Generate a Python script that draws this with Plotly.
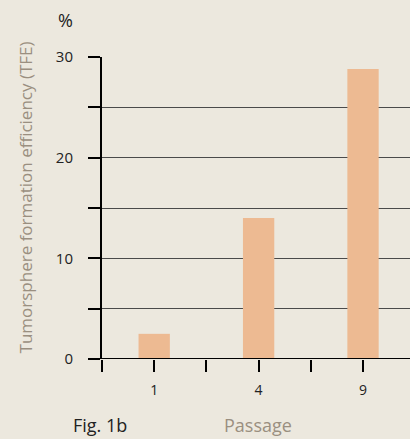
import plotly.graph_objects as go

categories = ["1", "4", "9"]
tfe_values = [2.5, 14.0, 28.8]
y_tick_vals = [0, 10, 20, 30]
y_tick_text = ["0", "10", "20", "30"]

FONT = "Open Sans"
BG = "#ECE8DE"
BAR = "#EDBA92"
TITLE_C = "#9A8F80"

xpos = list(range(len(categories)))

fig = go.Figure()
fig.add_trace(go.Bar(x=xpos, y=tfe_values, width=0.3, marker=dict(color=BAR, line=dict(width=0)),
                     hoverinfo="skip"))

fig.update_layout(
    width=410, height=439,
    margin=dict(l=102, r=0, t=57, b=80),
    paper_bgcolor=BG, plot_bgcolor=BG,
    showlegend=False,
    font=dict(family=FONT, color="#222222", size=13),
    xaxis=dict(
        range=[-0.5, 2.45], tickvals=xpos, ticktext=categories,
        ticks="outside", ticklen=12, tickwidth=2, tickcolor="black",
        showgrid=False, zeroline=False, showline=False,
        tickfont=dict(size=14, color="#222222"),
        ticklabelstandoff=6,
        minor=dict(tick0=-0.5, dtick=1, ticks="outside", ticklen=12, tickwidth=2, tickcolor="black", showgrid=False),
        fixedrange=True,
    ),
    yaxis=dict(
        range=[0, 30], tickvals=y_tick_vals, ticktext=y_tick_text,
        ticks="outside", ticklen=12, tickwidth=2, tickcolor="black",
        showgrid=True, gridcolor="#4a4a4a", gridwidth=1,
        zeroline=False, showline=True, linecolor="black", linewidth=2,
        tickfont=dict(size=15, color="#222222"),
        ticklabelstandoff=12,
        minor=dict(dtick=5, tick0=0, ticks="outside", ticklen=12, tickwidth=2, tickcolor="black",
                   showgrid=True, gridcolor="#4a4a4a", gridwidth=1),
        fixedrange=True,
    ),
)

# x-axis baseline (drawn on top of bars)
fig.add_shape(type="line", xref="paper", yref="y", x0=0, x1=1, y0=0, y1=0,
              line=dict(color="black", width=2), layer="above")

fig.add_annotation(xref="paper", yref="paper", x=-0.117, y=1.1225, text="%", showarrow=False,
                   font=dict(size=18, color="#222222", family=FONT), xanchor="center", yanchor="middle")
fig.add_annotation(xref="paper", yref="paper", x=-0.25, y=0.535, textangle=-90,
                   text="Tumorsphere formation efficiency (TFE)", showarrow=False,
                   font=dict(size=17, color=TITLE_C, family=FONT), xanchor="center", yanchor="middle")
fig.add_annotation(xref="paper", yref="paper", x=-0.005, y=-0.2185, text="Fig. 1b", showarrow=False,
                   font=dict(size=18, color="#222222", family=FONT), xanchor="center", yanchor="middle")
fig.add_annotation(xref="paper", yref="paper", x=0.505, y=-0.2185, text="Passage", showarrow=False,
                   font=dict(size=18, color=TITLE_C, family=FONT), xanchor="center", yanchor="middle")

fig.write_html("out.html", config={"displayModeBar": False, "staticPlot": True},
               post_script="document.body.style.margin='0';document.body.style.padding='0';")
